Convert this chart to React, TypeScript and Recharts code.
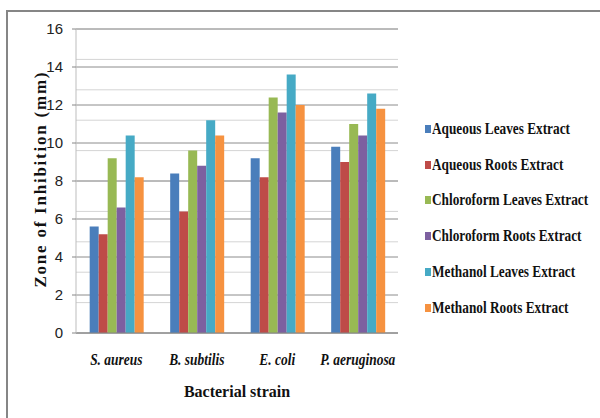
import React from "react";
import {
  BarChart,
  Bar,
  XAxis,
  YAxis,
  CartesianGrid,
  Legend,
} from "recharts";

const strains = ["S. aureus", "B. subtilis", "E. coli", "P. aeruginosa"];

const aqueousLeaves = [5.6, 8.4, 9.2, 9.8];
const aqueousRoots = [5.2, 6.4, 8.2, 9.0];
const chloroformLeaves = [9.2, 9.6, 12.4, 11.0];
const chloroformRoots = [6.6, 8.8, 11.6, 10.4];
const methanolLeaves = [10.4, 11.2, 13.6, 12.6];
const methanolRoots = [8.2, 10.4, 12.0, 11.8];

const yTicks = [0, 2, 4, 6, 8, 10, 12, 14, 16];

const series = [
  { key: "al", name: "Aqueous Leaves Extract", values: aqueousLeaves, color: "#4A7EBB" },
  { key: "ar", name: "Aqueous Roots Extract", values: aqueousRoots, color: "#BE4B48" },
  { key: "cl", name: "Chloroform Leaves Extract", values: chloroformLeaves, color: "#98B954" },
  { key: "cr", name: "Chloroform Roots Extract", values: chloroformRoots, color: "#7D60A0" },
  { key: "ml", name: "Methanol Leaves Extract", values: methanolLeaves, color: "#46AAC5" },
  { key: "mr", name: "Methanol Roots Extract", values: methanolRoots, color: "#F69240" },
];

const data = strains.map((strain, i) => {
  const row: any = { strain };
  series.forEach((s) => (row[s.key] = s.values[i]));
  return row;
});

// minor gridlines every 0.4 mm
const minorLines = Array.from({ length: 41 }, (_, i) => +(i * 0.4).toFixed(1));

const serif = "'Liberation Serif', 'Times New Roman', serif";

const XTick = (props: any) => {
  const { x, y, payload } = props;
  return (
    <g transform={`translate(${x},${y})`}>
      <text
        transform="scale(0.84,1)"
        textAnchor="middle"
        dy={24}
        fontFamily={serif}
        fontStyle="italic"
        fontWeight="bold"
        fontSize={16}
        fill="#111"
      >
        {payload.value}
      </text>
    </g>
  );
};

const LegendBox = (props: any) => {
  const { payload } = props;
  return (
    <div>
      {(payload || []).map((p: any) => (
        <div
          key={p.value}
          style={{ height: 35.8, display: "flex", alignItems: "center" }}
        >
          <span
            style={{
              width: 6,
              height: 8,
              flexShrink: 0,
              background: p.color,
              display: "inline-block",
              marginRight: 1,
            }}
          />
          <span
            style={{
              fontFamily: serif,
              fontWeight: "bold",
              fontSize: 16,
              color: "#111",
              display: "inline-block",
              whiteSpace: "nowrap",
              transform: "scaleX(0.83)",
              transformOrigin: "left center",
            }}
          >
            {p.value}
          </span>
        </div>
      ))}
    </div>
  );
};

export default function App() {
  return (
    <div
      style={{
        position: "absolute",
        left: 0,
        top: 0,
        width: 600,
        height: 418,
        background: "#fff",
        overflow: "hidden",
      }}
    >
      <div
        style={{
          position: "absolute",
          left: 6,
          top: 10,
          width: 594,
          height: 408,
          borderLeft: "2px solid #868686",
          borderTop: "2px solid #868686",
        }}
      />
      <BarChart
        width={600}
        height={418}
        data={data}
        margin={{ top: 29, right: 202, bottom: 15, left: 0 }}
        barCategoryGap="17%"
        barGap={0}
      >
        <CartesianGrid
          vertical={false}
          horizontalValues={minorLines}
          stroke="#d4d4d4"
        />
        <CartesianGrid
          vertical={false}
          horizontalValues={yTicks}
          stroke="#8c8c8c"
        />
        <XAxis
          dataKey="strain"
          height={70}
          axisLine={{ stroke: "#868686" }}
          tickLine={false}
          tick={<XTick />}
          interval={0}
          label={{
            value: "Bacterial strain",
            position: "insideBottom",
            offset: 6,
            fontFamily: serif,
            fontWeight: "bold",
            fontSize: 16,
            fill: "#111",
          }}
        />
        <YAxis
          width={76}
          domain={[0, 16]}
          ticks={yTicks}
          axisLine={{ stroke: "#bdbdbd" }}
          tickLine={{ stroke: "#868686" }}
          tickSize={4}
          tickMargin={9}
          tick={{
            fontFamily: "'Liberation Sans Narrow', 'Liberation Sans', Arial, sans-serif",
            fontSize: 15,
            fill: "#222",
          }}
          label={() => (
            <text
              x={40}
              y={180}
              transform="rotate(-90, 40, 180)"
              textAnchor="middle"
              dominantBaseline="central"
              fontFamily={serif}
              fontWeight="bold"
              fontSize={17}
              fill="#111"
              textLength={215}
              lengthAdjust="spacing"
            >
              Zone of Inhibition  (mm)
            </text>
          )}
        />
        <Legend
          layout="horizontal"
          align="center"
          verticalAlign="middle"
          width={185}
          wrapperStyle={{ left: 425, top: 111, width: 185 }}
          content={<LegendBox />}
        />
        {series.map((s) => (
          <Bar
            key={s.key}
            dataKey={s.key}
            name={s.name}
            fill={s.color}
            isAnimationActive={false}
          />
        ))}
      </BarChart>
    </div>
  );
}
